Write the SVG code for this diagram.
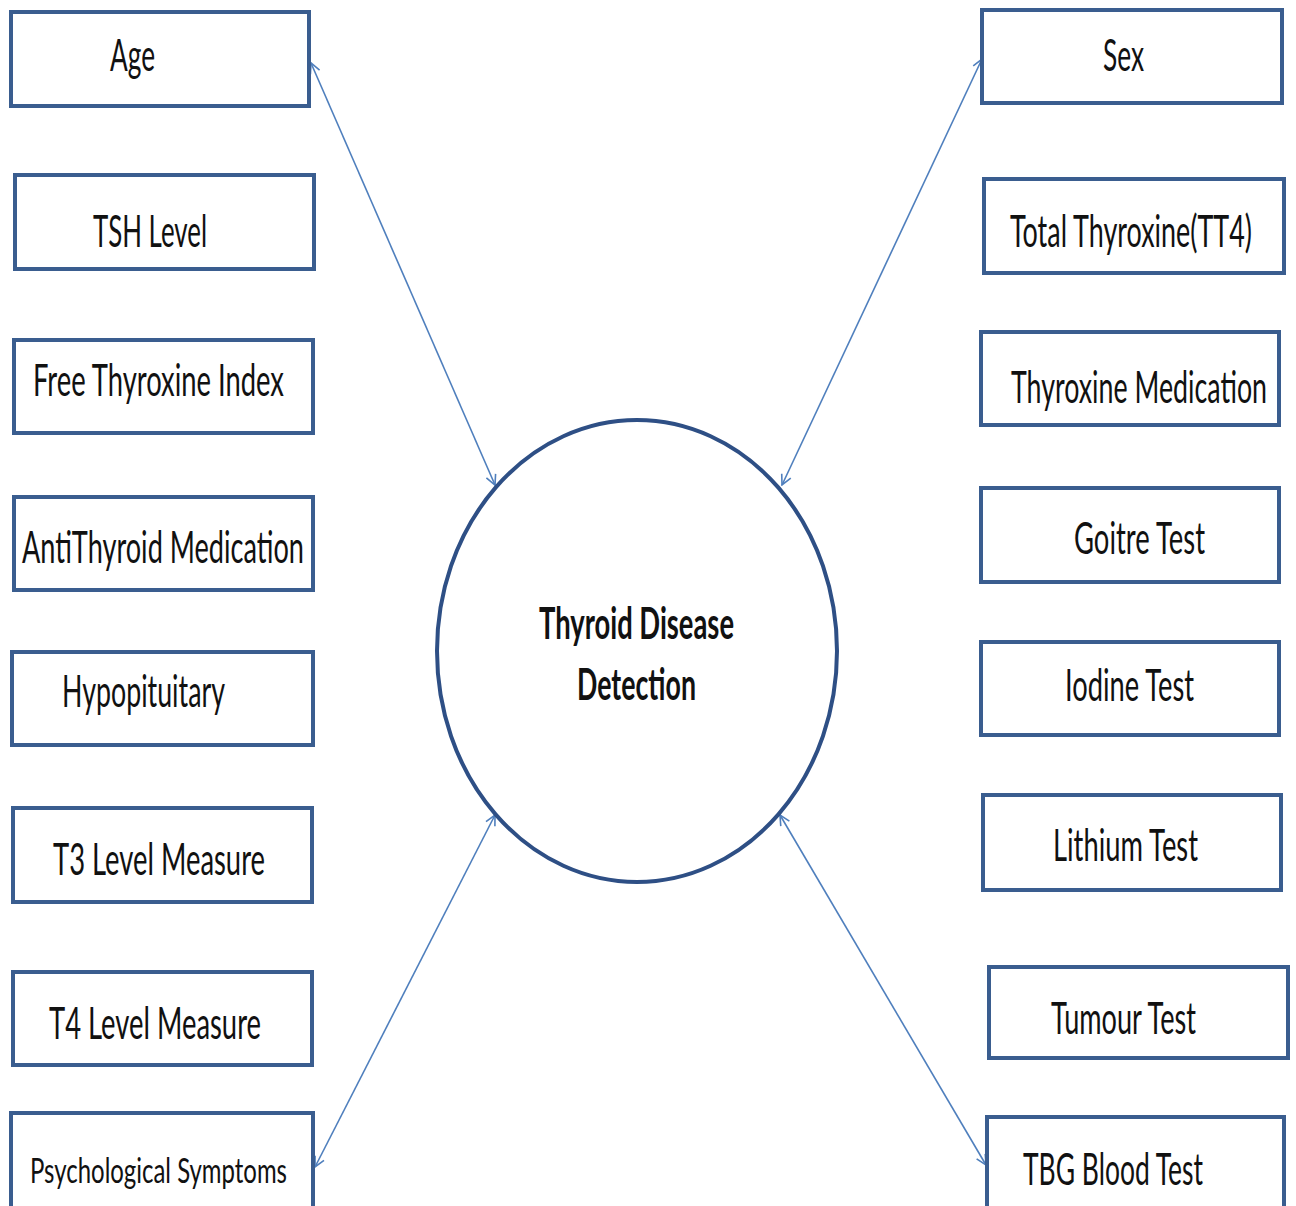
<svg xmlns="http://www.w3.org/2000/svg" width="1296" height="1206" viewBox="0 0 1296 1206">
<style>
.box{fill:#ffffff;stroke:#3a5d8f;stroke-width:4}
.lbl{font-family:Lato,"Open Sans","Liberation Sans",sans-serif;font-size:44px;fill:#111111}
.sm{font-size:34px}
.ctr{font-family:Lato,"Open Sans","Liberation Sans",sans-serif;font-size:44px;font-weight:bold;fill:#111111}
.conn{stroke:#4f7fbd;stroke-width:1.6;fill:none;marker-start:url(#ah);marker-end:url(#ah)}
</style>
<defs>
<marker id="ah" viewBox="0 0 12 12" refX="11" refY="6" markerWidth="12" markerHeight="12" markerUnits="userSpaceOnUse" orient="auto-start-reverse">
<path d="M1,1 L11,6 L1,11" fill="none" stroke="#4f7fbd" stroke-width="1.6"/>
</marker>
</defs>
<rect width="1296" height="1206" fill="#ffffff"/>
<g id="connectors">
<line class="conn" x1="311" y1="63" x2="495" y2="485"/>
<line class="conn" x1="982" y1="59" x2="782" y2="485"/>
<line class="conn" x1="315" y1="1167" x2="495" y2="815"/>
<line class="conn" x1="986" y1="1165" x2="780" y2="815"/>
</g>
<g id="center">
<ellipse cx="637" cy="651" rx="200" ry="231" fill="#ffffff" stroke="#2e4f85" stroke-width="4"/>
<text class="ctr" x="539" y="639" textLength="195" lengthAdjust="spacingAndGlyphs">Thyroid Disease</text>
<text class="ctr" x="577" y="700" textLength="119" lengthAdjust="spacingAndGlyphs">Detection</text>
</g>
<g id="age"><rect class="box" x="11" y="12" width="298" height="94"/><text class="lbl" x="110" y="71" textLength="45" lengthAdjust="spacingAndGlyphs">Age</text></g>
<g id="tsh"><rect class="box" x="15" y="175" width="299" height="94"/><text class="lbl" x="93" y="247" textLength="114" lengthAdjust="spacingAndGlyphs">TSH Level</text></g>
<g id="fti"><rect class="box" x="14" y="340" width="299" height="93"/><text class="lbl" x="33" y="396" textLength="251" lengthAdjust="spacingAndGlyphs">Free Thyroxine Index</text></g>
<g id="antithyroid"><rect class="box" x="14" y="497" width="299" height="93"/><text class="lbl" x="22" y="563" textLength="282" lengthAdjust="spacingAndGlyphs">AntiThyroid Medication</text></g>
<g id="hypopituitary"><rect class="box" x="12" y="652" width="301" height="93"/><text class="lbl" x="62" y="707" textLength="163" lengthAdjust="spacingAndGlyphs">Hypopituitary</text></g>
<g id="t3"><rect class="box" x="13" y="808" width="299" height="94"/><text class="lbl" x="53" y="875" textLength="212" lengthAdjust="spacingAndGlyphs">T3 Level Measure</text></g>
<g id="t4"><rect class="box" x="13" y="972" width="299" height="93"/><text class="lbl" x="49" y="1039" textLength="212" lengthAdjust="spacingAndGlyphs">T4 Level Measure</text></g>
<g id="psych"><rect class="box" x="11" y="1113" width="302" height="110"/><text class="lbl sm" x="30" y="1183" textLength="257" lengthAdjust="spacingAndGlyphs">Psychological Symptoms</text></g>
<g id="sex"><rect class="box" x="982" y="10" width="300" height="93"/><text class="lbl" x="1103" y="71" textLength="41" lengthAdjust="spacingAndGlyphs">Sex</text></g>
<g id="tt4"><rect class="box" x="984" y="179" width="300" height="94"/><text class="lbl" x="1010" y="247" textLength="242" lengthAdjust="spacingAndGlyphs">Total Thyroxine(TT4)</text></g>
<g id="thyroxine-med"><rect class="box" x="981" y="332" width="298" height="93"/><text class="lbl" x="1011" y="403" textLength="256" lengthAdjust="spacingAndGlyphs">Thyroxine Medication</text></g>
<g id="goitre"><rect class="box" x="981" y="488" width="298" height="94"/><text class="lbl" x="1074" y="554" textLength="131" lengthAdjust="spacingAndGlyphs">Goitre Test</text></g>
<g id="iodine"><rect class="box" x="981" y="642" width="298" height="93"/><text class="lbl" x="1065" y="701" textLength="129" lengthAdjust="spacingAndGlyphs">Iodine Test</text></g>
<g id="lithium"><rect class="box" x="983" y="795" width="298" height="95"/><text class="lbl" x="1053" y="861" textLength="145" lengthAdjust="spacingAndGlyphs">Lithium Test</text></g>
<g id="tumour"><rect class="box" x="989" y="967" width="299" height="91"/><text class="lbl" x="1051" y="1034" textLength="145" lengthAdjust="spacingAndGlyphs">Tumour Test</text></g>
<g id="tbg"><rect class="box" x="987" y="1117" width="297" height="110"/><text class="lbl" x="1023" y="1185" textLength="180" lengthAdjust="spacingAndGlyphs">TBG Blood Test</text></g>
</svg>
